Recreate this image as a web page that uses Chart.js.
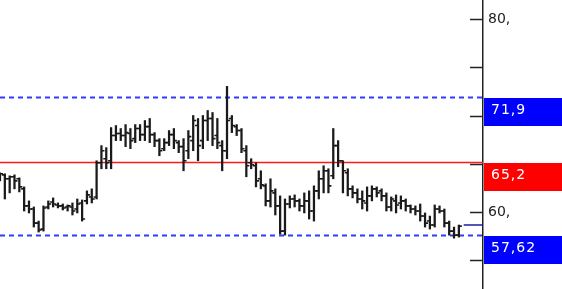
<!DOCTYPE html>
<html>
<head>
<meta charset="utf-8">
<script src="https://cdn.jsdelivr.net/npm/chart.js@4/dist/chart.umd.min.js"></script>
<style>
  html, body { margin: 0; padding: 0; background: #fff; }
  #chart { display: block; }
</style>
</head>
<body>
<canvas id="chart" width="562" height="289"></canvas>
<script>
// price bars
const high = [64.06, 63.96, 63.75, 63.85, 63.54, 62.60, 61.15, 60.52, 59.06, 60.63,
  61.15, 61.46, 60.94, 60.83, 60.73, 60.94, 61.35, 61.25, 62.19, 62.40,
  65.31, 66.88, 66.67, 68.75, 68.96, 68.65, 69.06, 68.65, 69.06, 69.06,
  69.48, 69.69, 68.23, 67.60, 67.60, 68.44, 68.65, 67.40, 67.60, 68.44,
  70.00, 69.69, 70.00, 70.52, 70.31, 69.69, 67.40, 73.02, 70.00, 69.06,
  68.65, 66.88, 65.52, 65.10, 64.27, 62.92, 63.44, 62.40, 61.67, 61.35,
  61.67, 61.77, 61.35, 61.98, 62.19, 62.71, 64.27, 64.79, 64.48, 68.65,
  67.40, 65.31, 64.48, 62.71, 62.40, 62.19, 62.60, 62.71, 62.60, 62.40,
  61.98, 61.56, 61.77, 61.67, 61.35, 60.73, 60.63, 60.83, 59.90, 59.58,
  60.73, 60.63, 60.31, 59.06, 58.44, 58.65];
const low = [63.23, 61.35, 61.98, 62.40, 62.08, 60.10, 59.90, 58.44, 57.92, 58.02,
  60.31, 60.52, 60.42, 60.21, 60.10, 59.69, 59.90, 59.06, 60.83, 60.94,
  61.35, 64.48, 64.48, 64.48, 67.40, 67.40, 66.77, 66.56, 67.19, 67.40,
  67.40, 67.19, 66.77, 65.83, 66.35, 66.88, 66.56, 66.15, 64.27, 65.52,
  66.35, 65.31, 66.56, 67.40, 66.88, 66.56, 64.27, 65.52, 68.23, 67.92,
  66.15, 63.65, 64.48, 62.60, 62.40, 60.63, 60.52, 59.69, 57.71, 57.60,
  60.42, 60.52, 60.10, 59.90, 59.27, 59.06, 61.35, 61.98, 61.98, 63.44,
  64.69, 61.98, 61.67, 61.46, 60.94, 60.31, 60.10, 61.15, 61.56, 61.15,
  60.10, 60.10, 59.90, 60.31, 60.10, 59.90, 59.69, 59.06, 58.44, 58.23,
  58.44, 59.90, 58.44, 57.60, 57.29, 57.40];
const open = [63.65, 63.85, 63.44, 63.65, 63.44, 62.40, 60.63, 60.31, 58.85, 58.23,
  60.52, 61.04, 60.73, 60.63, 60.52, 60.52, 60.31, 60.94, 61.15, 61.56,
  61.56, 65.10, 65.52, 65.31, 67.92, 68.13, 67.92, 68.13, 67.60, 68.65,
  68.02, 68.85, 68.02, 67.40, 66.56, 67.19, 68.02, 67.19, 66.77, 66.35,
  67.40, 68.96, 67.40, 69.48, 69.69, 67.92, 66.88, 66.35, 69.69, 68.85,
  68.44, 66.35, 65.10, 64.79, 63.44, 62.71, 61.15, 61.98, 60.63, 58.02,
  60.83, 61.35, 61.15, 60.63, 61.15, 60.10, 62.19, 63.44, 64.27, 63.75,
  66.88, 65.31, 64.06, 62.40, 61.98, 61.35, 60.94, 61.67, 62.40, 62.19,
  61.67, 60.52, 61.15, 60.94, 61.15, 60.63, 60.31, 60.10, 59.58, 59.06,
  58.65, 60.31, 60.10, 58.85, 58.02, 57.60];
const close = [63.96, 63.44, 63.65, 63.23, 62.60, 60.63, 60.31, 58.85, 58.13, 60.42,
  60.83, 60.83, 60.63, 60.42, 60.63, 60.10, 60.83, 59.27, 61.77, 61.35,
  65.10, 66.35, 65.10, 67.92, 68.13, 67.92, 68.23, 67.40, 68.65, 68.02,
  68.85, 68.02, 67.40, 66.35, 67.19, 68.02, 67.40, 66.77, 65.31, 67.81,
  69.48, 66.88, 69.48, 69.69, 67.60, 67.19, 66.35, 69.48, 68.96, 68.44,
  66.56, 64.79, 64.90, 63.23, 62.81, 61.15, 62.19, 60.63, 58.02, 60.83,
  61.35, 61.15, 60.63, 61.15, 60.10, 62.19, 63.44, 64.27, 62.71, 66.88,
  65.31, 64.27, 62.40, 61.98, 61.35, 61.15, 61.67, 62.40, 61.98, 61.67,
  60.52, 61.35, 60.73, 61.15, 60.63, 60.31, 60.10, 59.58, 58.85, 58.65,
  60.31, 60.10, 58.85, 58.02, 57.60, 58.54];

const extraSlots = 5;          // empty room after the last bar
const lastPrice = 58.65;
const resistance = 71.9;
const pivot = 65.2;
const support = 57.62;
const yTicks = [55, 60, 65, 70, 75, 80];
const yLabelled = [60, 80];

const labels = [];
for (let i = 0; i < high.length + extraSlots; i++) labels.push('');

const barData = labels.map((_, i) => i < high.length ? [low[i], high[i]] : null);
const priceLine = labels.map((_, i) => i >= high.length ? lastPrice : null);

const fmt = v => String(v).replace('.', ',');

// open / close ticks on each bar
const ohlcTicks = {
    id: 'ohlcTicks',
    afterDatasetsDraw(chart) {
        const ctx = chart.ctx;
        const y = chart.scales.y;
        const meta = chart.getDatasetMeta(0);
        ctx.save();
        ctx.strokeStyle = '#1a1a1a';
        ctx.lineWidth = 1.6;
        meta.data.forEach((bar, i) => {
            if (i >= open.length) return;
            const yo = y.getPixelForValue(open[i]);
            const yc = y.getPixelForValue(close[i]);
            ctx.beginPath();
            ctx.moveTo(bar.x - 3, yo);
            ctx.lineTo(bar.x, yo);
            ctx.moveTo(bar.x, yc);
            ctx.lineTo(bar.x + 3, yc);
            ctx.stroke();
        });
        ctx.restore();
    }
};

// level lines, axis tick marks and coloured price boxes
const levels = {
    id: 'levels',
    beforeDatasetsDraw(chart) {
        const ctx = chart.ctx;
        const area = chart.chartArea;
        const y = chart.scales.y;
        ctx.save();
        ctx.lineWidth = 1.8;
        ctx.strokeStyle = '#2f3cff';
        ctx.setLineDash([5, 4]);
        [resistance, support].forEach(v => {
            const py = Math.round(y.getPixelForValue(v)) + 0.5;
            ctx.beginPath();
            ctx.moveTo(area.left, py);
            ctx.lineTo(area.right, py);
            ctx.stroke();
        });
        ctx.setLineDash([]);
        ctx.lineWidth = 1.5;
        ctx.strokeStyle = '#ff1a1a';
        const pp = Math.round(y.getPixelForValue(pivot)) + 0.5;
        ctx.beginPath();
        ctx.moveTo(area.left, pp);
        ctx.lineTo(area.right, pp);
        ctx.stroke();
        ctx.restore();
    },
    afterDraw(chart) {
        const ctx = chart.ctx;
        const area = chart.chartArea;
        const y = chart.scales.y;
        ctx.save();
        // tick marks sit inside the plot, left of the axis line
        ctx.strokeStyle = '#222';
        ctx.lineWidth = 1.5;
        yTicks.forEach(v => {
            const py = Math.round(y.getPixelForValue(v)) + 0.5;
            ctx.beginPath();
            ctx.moveTo(area.right - 13, py);
            ctx.lineTo(area.right, py);
            ctx.stroke();
        });
        const boxes = [
            { v: resistance, bg: '#0000ff' },
            { v: pivot, bg: '#ff0000' },
            { v: support, bg: '#0000ff' }
        ];
        ctx.font = '14px "DejaVu Sans"';
        ctx.textBaseline = 'middle';
        if ('letterSpacing' in ctx) ctx.letterSpacing = '1px';
        boxes.forEach(b => {
            const top = Math.round(y.getPixelForValue(b.v)) + 1;
            ctx.fillStyle = b.bg;
            ctx.fillRect(area.right + 1, top, chart.width - area.right, 28);
            ctx.fillStyle = '#fff';
            ctx.fillText(fmt(b.v), area.right + 8, top + 12);
        });
        ctx.restore();
    }
};

new Chart(document.getElementById('chart'), {
    type: 'bar',
    data: {
        labels: labels,
        datasets: [{
            data: barData,
            backgroundColor: '#1a1a1a',
            barThickness: 1.6,
            grouped: false
        }, {
            type: 'line',
            data: priceLine,
            borderColor: '#1c1c9a',
            borderWidth: 1.5,
            pointRadius: 0,
            spanGaps: false
        }]
    },
    options: {
        responsive: false,
        animation: false,
        layout: { padding: 0 },
        plugins: {
            legend: { display: false },
            tooltip: { enabled: false }
        },
        scales: {
            x: {
                display: false,
                offset: false
            },
            y: {
                position: 'right',
                min: 52.02,
                max: 81.97,
                afterBuildTicks(scale) {
                    scale.ticks = yTicks.map(v => ({ value: v }));
                },
                afterFit(scale) {
                    scale.width = 79;
                    scale.paddingTop = 0;
                    scale.paddingBottom = 0;
                },
                grid: { display: false, drawTicks: false },
                border: { display: true, color: '#222', width: 1.5 },
                ticks: {
                    padding: 5,
                    color: '#222',
                    font: { family: 'DejaVu Sans', size: 14 },
                    callback: v => yLabelled.includes(v) ? v + ',' : ''
                }
            }
        }
    },
    plugins: [levels, ohlcTicks]
});
</script>
</body>
</html>
